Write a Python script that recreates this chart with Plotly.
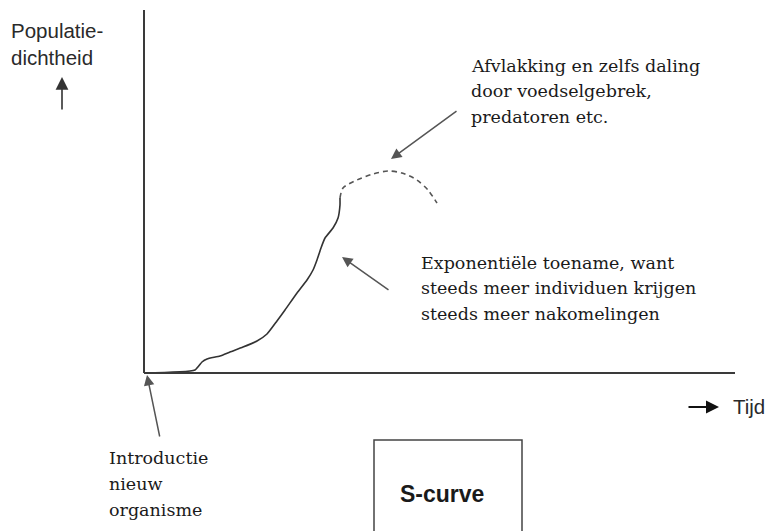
import plotly.graph_objects as go

# Population density over time (arbitrary units, 0-100 on both axes)
tijd_groei = [0, 8.63, 9.81, 10.66, 12.86, 14.55, 16.75, 19.12, 20.81, 22.50,
              23.86, 25.89, 27.58, 28.60, 29.27, 29.95, 30.63, 31.98, 32.83,
              33.16, 33.16]
dichtheid_groei = [0, 0.83, 3.03, 3.86, 4.68, 5.79, 7.16, 8.82, 10.74, 14.33,
                   17.36, 22.04, 25.62, 28.37, 31.13, 34.44, 37.19, 39.94,
                   42.70, 46.28, 48.21]

tijd_afvlakking = [33.16, 33.67, 36.04, 38.75, 41.29, 43.65, 46.19, 48.05, 49.58]
dichtheid_afvlakking = [48.21, 50.96, 53.17, 54.82, 55.65, 55.10, 53.17, 50.41, 46.83]

W, H = 768, 531
# canvas placement of the axis origin and axis ends
X0_PX, X1_PX = 144, 735
Y0_PX, Y1_PX = 373, 10
sx = (X1_PX - X0_PX) / 100.0
sy = (Y0_PX - Y1_PX) / 100.0
x_range = [-X0_PX / sx, (W - X0_PX) / sx]
y_range = [-(H - Y0_PX) / sy, Y0_PX / sy]

SANS = "Liberation Sans, Arial, sans-serif"
SERIF = "DejaVu Serif, serif"
INK = "#1a1a1a"
ARROW = "#555555"


def px(x, y):
    """Pixel position on the canvas -> paper coordinates."""
    return x / W, 1 - y / H


fig = go.Figure()
fig.add_trace(go.Scatter(x=tijd_groei, y=dichtheid_groei, mode="lines",
                         line=dict(color="#333333", width=1.6,
                                   shape="spline", smoothing=0.5),
                         hoverinfo="skip"))
fig.add_trace(go.Scatter(x=tijd_afvlakking, y=dichtheid_afvlakking, mode="lines",
                         line=dict(color="#555555", width=1.6, dash="5px,4px",
                                   shape="spline", smoothing=0.8),
                         hoverinfo="skip"))

# axes
fig.add_shape(type="line", xref="x", yref="y", x0=0, y0=0, x1=0, y1=100,
              line=dict(color="#3a3a3a", width=2))
fig.add_shape(type="line", xref="x", yref="y", x0=0, y0=0, x1=100, y1=0,
              line=dict(color="#3a3a3a", width=2))

# S-curve box
bx0, by0 = px(374, 440)
bx1, _ = px(522, 531)
fig.add_shape(type="rect", xref="paper", yref="paper", x0=bx0, y0=by0,
              x1=bx1, y1=-0.05, line=dict(color="#444444", width=1.5),
              fillcolor="white")

annotations = []


def text(x, y, s, font, size, bold=False, anchor="left", color=INK):
    ax_, ay_ = px(x, y)
    if bold:
        s = f"<b>{s}</b>"
    annotations.append(dict(x=ax_, y=ay_, xref="paper", yref="paper", text=s,
                            showarrow=False, xanchor=anchor, yanchor="middle",
                            font=dict(family=font, size=size, color=color)))


def arrow(tail, tip, color=ARROW, width=1.5, size=1.4):
    tx, ty = px(*tip)
    annotations.append(dict(x=tx, y=ty, xref="paper", yref="paper", text="",
                            showarrow=True, arrowhead=2, arrowsize=size,
                            arrowwidth=width, arrowcolor=color,
                            ax=tail[0] - tip[0], ay=tail[1] - tip[1],
                            standoff=0))


text(9, 31, "Populatie-", SANS, 20.5, color="#2a2a2a")
text(9, 57, "dichtheid", SANS, 20.5, color="#2a2a2a")
arrow((62, 111), (62, 77), color="#333333", width=1.6, size=1.6)

text(469, 66, "Afvlakking en zelfs daling", SERIF, 17.5)
text(469, 91, "door voedselgebrek,", SERIF, 17.5)
text(469, 117, "predatoren etc.", SERIF, 17.5)
arrow((458, 110), (391, 159))

text(419, 263, "Exponentiële toename, want", SERIF, 17.5)
text(419, 288, "steeds meer individuen krijgen", SERIF, 17.5)
text(419, 314, "steeds meer nakomelingen", SERIF, 17.5)
arrow((390, 291), (342, 257))

text(107, 458, "Introductie", SERIF, 17.5)
text(107, 484, "nieuw", SERIF, 17.5)
text(107, 510, "organisme", SERIF, 17.5)
arrow((160, 438), (147, 375))

arrow((687, 407), (719, 407), color="#111111", width=2, size=1.3)
text(731, 406, "Tijd", SANS, 20.5, color="#2a2a2a")

text(442, 494, "S-curve", SANS, 23, bold=True, anchor="center")

fig.update_layout(
    width=W, height=H,
    margin=dict(l=0, r=0, t=0, b=0),
    paper_bgcolor="white", plot_bgcolor="white",
    showlegend=False,
    xaxis=dict(range=x_range, visible=False, fixedrange=True),
    yaxis=dict(range=y_range, visible=False, fixedrange=True),
    annotations=annotations,
)

fig.write_html("out.html")
